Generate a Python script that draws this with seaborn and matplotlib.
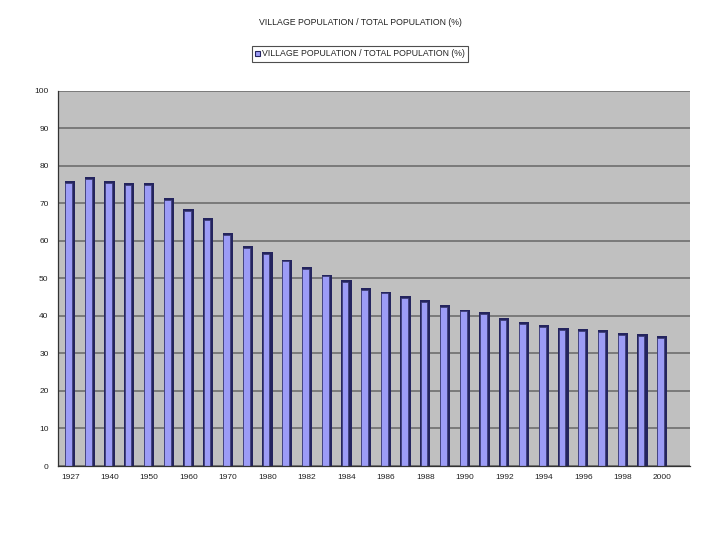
import pandas as pd
import numpy as np
import matplotlib.pyplot as plt
import seaborn as sns

# Village population share of total population (%)
years = ['1927', '1935', '1940', '1945', '1950', '1955', '1960', '1965', '1970', '1975',
         '1980', '1981', '1982', '1983', '1984', '1985', '1986', '1987', '1988', '1989',
         '1990', '1991', '1992', '1993', '1994', '1995', '1996', '1997', '1998', '1999', '2000']
village_share = [76, 77, 76, 75.5, 75.5, 71.5, 68.5, 66, 62, 58.5,
                 57, 55, 53, 51, 49.5, 47.5, 46.5, 45.3, 44.2, 42.8,
                 41.7, 41, 39.5, 38.3, 37.5, 36.8, 36.4, 36.2, 35.5, 35.1, 34.6]
y_ticks = list(range(0, 101, 10))
series_name = 'VILLAGE POPULATION / TOTAL POPULATION (%)'

df = pd.DataFrame({'year': years, 'share': village_share})

sns.set_style('white')
plt.rcParams['font.family'] = ['Liberation Sans', 'DejaVu Sans']

fig = plt.figure(figsize=(7.2, 5.4), dpi=100)
ax = fig.add_axes([0.081, 0.137, 0.877, 0.695])
ax.set_facecolor('#c0c0c0')

ax.set_axisbelow(True)
ax.yaxis.grid(True, color='#7a7a7a', linewidth=1.4)
ax.xaxis.grid(False)

# dark side of each (pseudo 3D) column
sns.barplot(data=df, x='year', y='share', ax=ax, color='#24245e',
            width=0.52, linewidth=0, saturation=1)
n_dark = len(ax.patches)
# light front face
sns.barplot(data=df, x='year', y='share', ax=ax, color='#9c9cf6',
            width=0.34, linewidth=0, saturation=1, label=series_name)
for p in ax.patches[n_dark:]:
    p.set_x(p.get_x() - 0.07)
    p.set_height(p.get_height() - 0.5)
    p.set_edgecolor('#3a3a70')
    p.set_linewidth(0.5)

ax.set_ylim(0, 100)
ax.set_xlim(-0.6, 31.4)
ax.set_yticks(y_ticks)
ax.set_yticklabels([str(t) for t in y_ticks], fontsize=6, color='#222222')

pos = np.arange(len(years))
ax.set_xticks(pos[::2])
ax.set_xticklabels(years[::2], fontsize=6, color='#222222')
ax.set_xticks(np.arange(-0.5, len(years) + 0.5, 1), minor=True)
ax.tick_params(axis='x', which='major', length=0, pad=6)
ax.tick_params(axis='x', which='minor', length=4, color='#333333', width=0.8)
ax.tick_params(axis='y', length=4, color='#333333', width=0.8, pad=3)
ax.tick_params(axis='both', direction='out')
ax.set_xlabel('')
ax.set_ylabel('')

for side in ['top', 'right']:
    ax.spines[side].set_visible(False)
ax.spines['left'].set_color('#333333')
ax.spines['bottom'].set_color('#333333')
ax.spines['left'].set_linewidth(0.9)
ax.spines['bottom'].set_linewidth(0.9)

fig.text(0.5, 0.958, series_name, ha='center', va='center', fontsize=6.3, color='#222222')
leg = ax.legend(loc='center', bbox_to_anchor=(0.5, 0.9), bbox_transform=fig.transFigure,
                fontsize=6.3, frameon=True, fancybox=False, edgecolor='#222222',
                handlelength=0.6, handleheight=0.6, handletextpad=0.3,
                borderpad=0.35, borderaxespad=0)
leg.get_frame().set_linewidth(0.8)
for h in leg.legend_handles:
    h.set_edgecolor('#24245e')
    h.set_linewidth(0.8)

fig.savefig('out.png', dpi=100)
